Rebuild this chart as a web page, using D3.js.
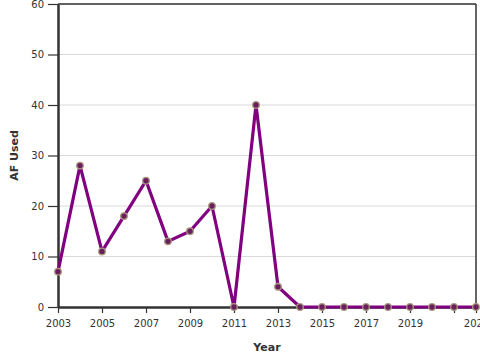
<!DOCTYPE html>
<html><head><meta charset="utf-8">
<script src="https://cdn.jsdelivr.net/npm/d3@7"></script>
<style>body{margin:0;background:#fff}svg{display:block}</style>
</head><body>
<script>
const years = [2003,2004,2005,2006,2007,2008,2009,2010,2011,2012,2013,2014,2015,2016,2017,2018,2019,2020,2021,2022];
const afUsed = [7,28,11,18,25,13,15,20,0,40,4,0,0,0,0,0,0,0,0,0];
const xTickValues = [2003,2005,2007,2009,2011,2013,2015,2017,2019,2021,2022];
const xTickLabels = ["2003","2005","2007","2009","2011","2013","2015","2017","2019","","2022"];
const yTickValues = [0,10,20,30,40,50,60];

const W=480,H=360;
const m={left:58,right:4,top:4,bottom:53};
const svg=d3.select("body").append("svg").attr("width",W).attr("height",H);
const x=d3.scaleLinear().domain([2003,2022]).range([m.left,W-m.right]);
const y=d3.scaleLinear().domain([0,60]).range([H-m.bottom,m.top]);
const font="DejaVu Sans, Verdana, sans-serif";

// grid
svg.append("g").selectAll("line").data(yTickValues.filter(d=>d>0)).join("line")
  .attr("x1",m.left).attr("x2",W-m.right).attr("y1",d=>y(d)).attr("y2",d=>y(d))
  .attr("stroke","#d9d9d9").attr("stroke-width",1);
// frame top & right
svg.append("line").attr("x1",m.left).attr("x2",W-m.right).attr("y1",y(60)).attr("y2",y(60)).attr("stroke","#333").attr("stroke-width",1.5);
svg.append("line").attr("x1",W-m.right).attr("x2",W-m.right).attr("y1",y(60)).attr("y2",y(0)).attr("stroke","#333").attr("stroke-width",1.5);

const xa=svg.append("g").attr("transform",`translate(0,${y(0)})`)
  .call(d3.axisBottom(x).tickValues(xTickValues).tickFormat((d,i)=>xTickLabels[i]).tickSize(6).tickSizeOuter(0));
const ya=svg.append("g").attr("transform",`translate(${m.left},0)`)
  .call(d3.axisLeft(y).tickValues(yTickValues).tickSize(10).tickSizeOuter(0));
[xa,ya].forEach(g=>{
  g.select(".domain").attr("stroke","#333").attr("stroke-width",2.5);
  g.selectAll(".tick line").attr("stroke","#333").attr("stroke-width",1.2);
  g.selectAll("text").attr("fill","#333").style("font-family",font).style("font-size","10px");
});
xa.selectAll("text").attr("dy","1.05em");
ya.selectAll("text").attr("dx","-1px");

// line
svg.append("path").datum(years.map((d,i)=>[d,afUsed[i]]))
  .attr("fill","none").attr("stroke","#800080").attr("stroke-width",3.2).attr("stroke-linejoin","round")
  .attr("d",d3.line().x(d=>x(d[0])).y(d=>y(d[1])));
svg.append("g").selectAll("circle").data(years.map((d,i)=>[d,afUsed[i]])).join("circle")
  .attr("cx",d=>x(d[0])).attr("cy",d=>y(d[1])).attr("r",3.3)
  .attr("fill","#6a1f5c").attr("stroke","#a89a80").attr("stroke-width",1.3);

svg.append("text").attr("x",(m.left+W-m.right)/2).attr("y",351).attr("text-anchor","middle")
  .style("font-family",font).style("font-size","11px").style("font-weight","bold").attr("fill","#333").text("Year");
svg.append("text").attr("transform",`translate(18,${(y(0)+y(60))/2}) rotate(-90)`).attr("text-anchor","middle")
  .style("font-family",font).style("font-size","11px").style("font-weight","bold").attr("fill","#333").text("AF Used");
</script>
</body></html>
